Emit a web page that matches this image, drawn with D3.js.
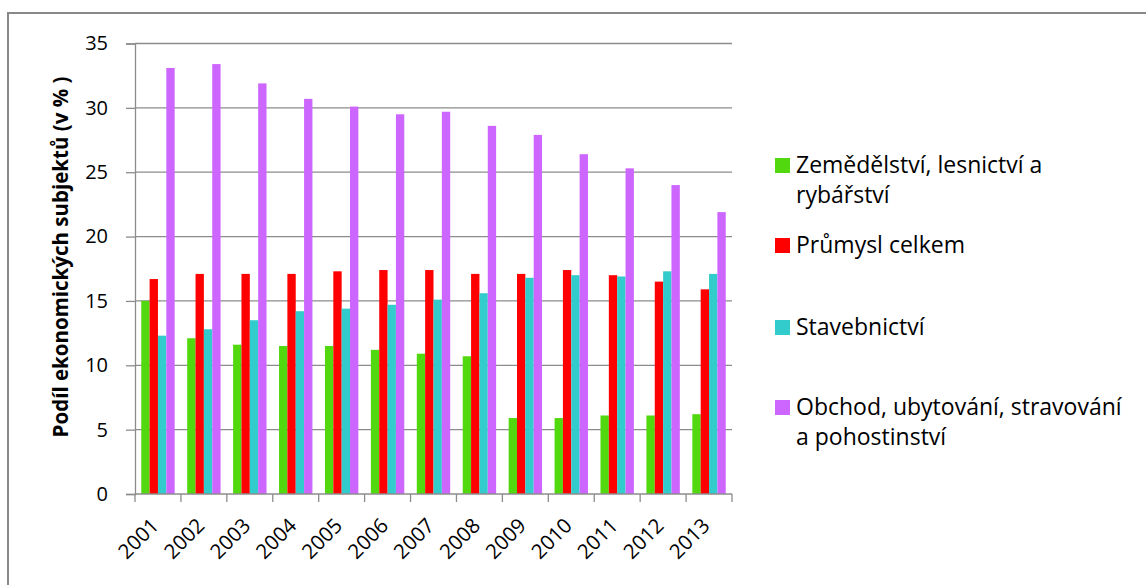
<!DOCTYPE html>
<meta charset="utf-8">
<script src="https://d3js.org/d3.v7.min.js"></script>
<style>
  body { margin: 0; background: #fff; }
  text { font-family: "Open Sans", sans-serif; fill: #000; }
</style>
<div id="graph"></div>

<script>
  // data
  var years = ["2001", "2002", "2003", "2004", "2005", "2006", "2007", "2008", "2009", "2010", "2011", "2012", "2013"];
  var seriesNames = ["Zemědělství, lesnictví a rybářství", "Průmysl celkem", "Stavebnictví", "Obchod, ubytování, stravování a pohostinství"];
  var zemedelstvi = [15.0, 12.1, 11.6, 11.5, 11.5, 11.2, 10.9, 10.7, 5.9, 5.9, 6.1, 6.1, 6.2];
  var prumysl = [16.7, 17.1, 17.1, 17.1, 17.3, 17.4, 17.4, 17.1, 17.1, 17.4, 17.0, 16.5, 15.9];
  var stavebnictvi = [12.3, 12.8, 13.5, 14.2, 14.4, 14.7, 15.1, 15.6, 16.8, 17.0, 16.9, 17.3, 17.1];
  var obchod = [33.1, 33.4, 31.9, 30.7, 30.1, 29.5, 29.7, 28.6, 27.9, 26.4, 25.3, 24.0, 21.9];
  var yTicks = [0, 5, 10, 15, 20, 25, 30, 35];
  var colors = ["#52d80e", "#ff0000", "#33cccc", "#cc66ff"];
  var legendLines = [["Zemědělství, lesnictví a", "rybářství"], ["Průmysl celkem"], ["Stavebnictví"], ["Obchod, ubytování, stravování", "a pohostinství"]];

  var allSeries = [zemedelstvi, prumysl, stavebnictvi, obchod];

  var width = 1146, height = 585;
  var margin = { top: 43.5, right: 414, bottom: 91, left: 135 };
  var w = width - margin.left - margin.right,
    h = height - margin.top - margin.bottom;

  var root = d3.select("#graph")
    .append("svg")
    .attr("width", width)
    .attr("height", height);

  // outer frame
  root.append("rect")
    .attr("x", 8).attr("y", 13)
    .attr("width", 1160).attr("height", 600)
    .attr("fill", "none")
    .attr("stroke", "#888")
    .attr("stroke-width", 2);

  var svg = root.append("g")
    .attr("transform", "translate(" + margin.left + "," + margin.top + ")");

  var x = d3.scaleBand()
    .domain(years)
    .range([0, w])
    .paddingInner(1.5 / 5.5)
    .paddingOuter(0.75 / 5.5);
  var band = w / years.length;

  var y = d3.scaleLinear()
    .domain([0, 35])
    .range([h, 0]);

  // gridlines
  svg.selectAll(".grid")
    .data(yTicks.slice(1))
    .enter()
    .append("line")
    .attr("x1", 0).attr("x2", w)
    .attr("y1", function (d) { return y(d); })
    .attr("y2", function (d) { return y(d); })
    .attr("stroke", "#8c8c8c")
    .attr("stroke-width", 1.3);

  var x1 = d3.scaleBand()
    .domain(d3.range(4))
    .range([0, x.bandwidth()]);

  var groups = svg.selectAll(".year")
    .data(years)
    .enter()
    .append("g")
    .attr("transform", function (d) { return "translate(" + x(d) + ",0)"; });

  groups.selectAll("rect")
    .data(function (d, i) { return allSeries.map(function (s, k) { return { k: k, value: s[i] }; }); })
    .enter()
    .append("rect")
    .attr("x", function (d) { return x1(d.k); })
    .attr("y", function (d) { return y(d.value); })
    .attr("width", x1.bandwidth())
    .attr("height", function (d) { return h - y(d.value); })
    .attr("fill", function (d) { return colors[d.k]; });

  // y axis
  var yAxis = svg.append("g")
    .call(d3.axisLeft(y).tickValues(yTicks).tickSize(9).tickPadding(18));
  yAxis.select(".domain").attr("stroke", "#8c8c8c").attr("stroke-width", 1.3);
  yAxis.selectAll(".tick line").attr("stroke", "#8c8c8c").attr("stroke-width", 1.3);
  yAxis.selectAll("text").style("font-size", "20px").attr("fill", "#000");

  // x axis: line plus boundary ticks
  svg.append("line")
    .attr("x1", 0).attr("x2", w)
    .attr("y1", h).attr("y2", h)
    .attr("stroke", "#8c8c8c").attr("stroke-width", 1.3);
  svg.selectAll(".xtick")
    .data(d3.range(years.length + 1))
    .enter()
    .append("line")
    .attr("x1", function (d) { return d * band; })
    .attr("x2", function (d) { return d * band; })
    .attr("y1", h).attr("y2", h + 8)
    .attr("stroke", "#8c8c8c").attr("stroke-width", 1.3);

  svg.selectAll(".xlabel")
    .data(years)
    .enter()
    .append("text")
    .attr("text-anchor", "end")
    .attr("transform", function (d) {
      return "translate(" + (x(d) + x.bandwidth() / 2 + 2) + "," + (h + 33) + ") rotate(-45)";
    })
    .style("font-size", "20.5px")
    .text(function (d) { return d; });

  // y axis title
  root.append("text")
    .attr("text-anchor", "middle")
    .attr("transform", "translate(68,257) rotate(-90)")
    .style("font-size", "20.5px")
    .style("font-weight", "bold")
    .text("Podíl ekonomických subjektů (v % )");

  // legend
  var legendY = [173, 253, 335, 415];
  var legend = root.selectAll(".legend")
    .data(legendLines)
    .enter()
    .append("g")
    .attr("transform", function (d, i) { return "translate(775," + legendY[i] + ")"; });

  legend.append("rect")
    .attr("x", 0).attr("y", -15)
    .attr("width", 15).attr("height", 15)
    .attr("fill", function (d, i) { return colors[i]; });

  legend.selectAll("text")
    .data(function (d) { return d; })
    .enter()
    .append("text")
    .attr("x", 21)
    .attr("y", function (d, j) { return j * 30; })
    .style("font-size", "23px")
    .text(function (d) { return d; });
</script>
